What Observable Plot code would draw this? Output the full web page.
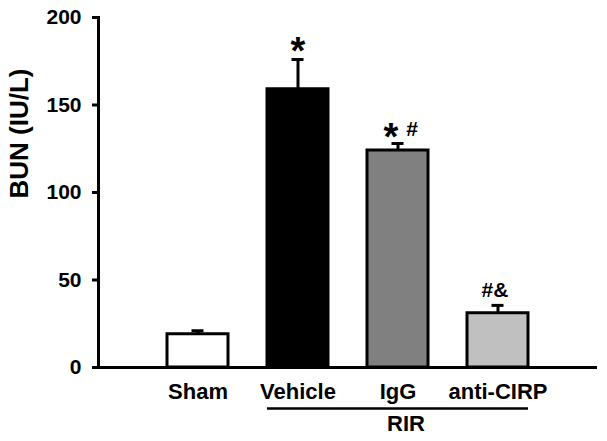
<!DOCTYPE html>
<html><head><meta charset="utf-8">
<script src="https://cdn.jsdelivr.net/npm/d3@7"></script>
<script src="https://cdn.jsdelivr.net/npm/@observablehq/plot@0.6"></script>
<style>body{margin:0;background:#fff} svg{font-family:"Liberation Sans",Arial,sans-serif}</style>
</head><body><div id="chart"></div>
<script>
const groups = ["Sham", "Vehicle", "IgG", "anti-CIRP"];
const means = [19, 159, 124, 31];
const sems = [2, 17, 4, 4.5];
const fills = ["#ffffff", "#000000", "#808080", "#c0c0c0"];
const stars = ["", "*", "*", ""];
const signs = ["", "", "#", "#&"];
const yTicks = [0, 50, 100, 150, 200];
const yLabel = "BUN (IU/L)";
const bracket = [{label: "RIR", from: "Vehicle", to: "anti-CIRP", mid: "IgG"}];

const data = groups.map((g, i) => ({group: g, mean: means[i], sem: sems[i], fill: fills[i], star: stars[i], sign: signs[i]}));
const errTop = d => d.mean + d.sem;
const F = "Liberation Sans, Arial, sans-serif";

const chart = Plot.plot({
  width: 607, height: 441,
  marginLeft: 98, marginRight: 10, marginTop: 17, marginBottom: 74,
  style: {fontFamily: F, background: "#fff", color: "#000"},
  x: {domain: groups, paddingInner: 0.39, paddingOuter: 0.69, axis: null},
  y: {domain: [0, 200], axis: null},
  color: {type: "identity"},
  marks: [
    Plot.axisY({ticks: yTicks, tickSize: 6, tickPadding: 11, fontSize: 21, fontWeight: "bold", strokeWidth: 3, tickFormat: d => String(d), label: null}),
    Plot.axisX({tickSize: 0, tickPadding: 16, fontSize: 22, fontWeight: "bold", label: null}),
    Plot.barY(data, {x: "group", y: "mean", fill: "fill", stroke: "#000", strokeWidth: 3}),
    Plot.ruleX(data, {x: "group", y1: "mean", y2: errTop, stroke: "#000", strokeWidth: 3}),
    Plot.tickY(data, {x: "group", y: errTop, stroke: "#000", strokeWidth: 3, insetLeft: 24.5, insetRight: 24.5}),
    Plot.frame({anchor: "left", stroke: "#000", strokeWidth: 3}),
    Plot.ruleY([0], {stroke: "#000", strokeWidth: 3}),
    Plot.text(data.filter(d => d.star && !d.sign), {x: "group", y: errTop, text: "star", fontSize: 38, fontWeight: "bold", lineAnchor: "middle", dy: -8}),
    Plot.text(data.filter(d => d.star && d.sign), {x: "group", y: errTop, text: "star", fontSize: 38, fontWeight: "bold", lineAnchor: "middle", dy: -6, dx: -7}),
    Plot.text(data.filter(d => d.sign && !d.star), {x: "group", y: errTop, text: "sign", fontSize: 21, fontWeight: "bold", lineAnchor: "bottom", dy: -8, dx: -3}),
    Plot.text(data.filter(d => d.sign && d.star), {x: "group", y: errTop, text: "sign", fontSize: 21, fontWeight: "bold", lineAnchor: "bottom", dy: -8, dx: 14}),
    Plot.ruleY(bracket, {x1: "from", x2: "to", y: 0, dy: 41, stroke: "#000", strokeWidth: 2.5}),
    Plot.text(bracket, {x: "mid", y: 0, text: "label", fontSize: 22, fontWeight: "bold", lineAnchor: "bottom", dy: 63, dx: 8}),
    Plot.text([yLabel], {frameAnchor: "left", rotate: -90, dx: -79, dy: 6, fontSize: 26, fontWeight: "bold", lineAnchor: "middle"})
  ]
});
document.getElementById("chart").appendChild(chart);
</script>
</body></html>
